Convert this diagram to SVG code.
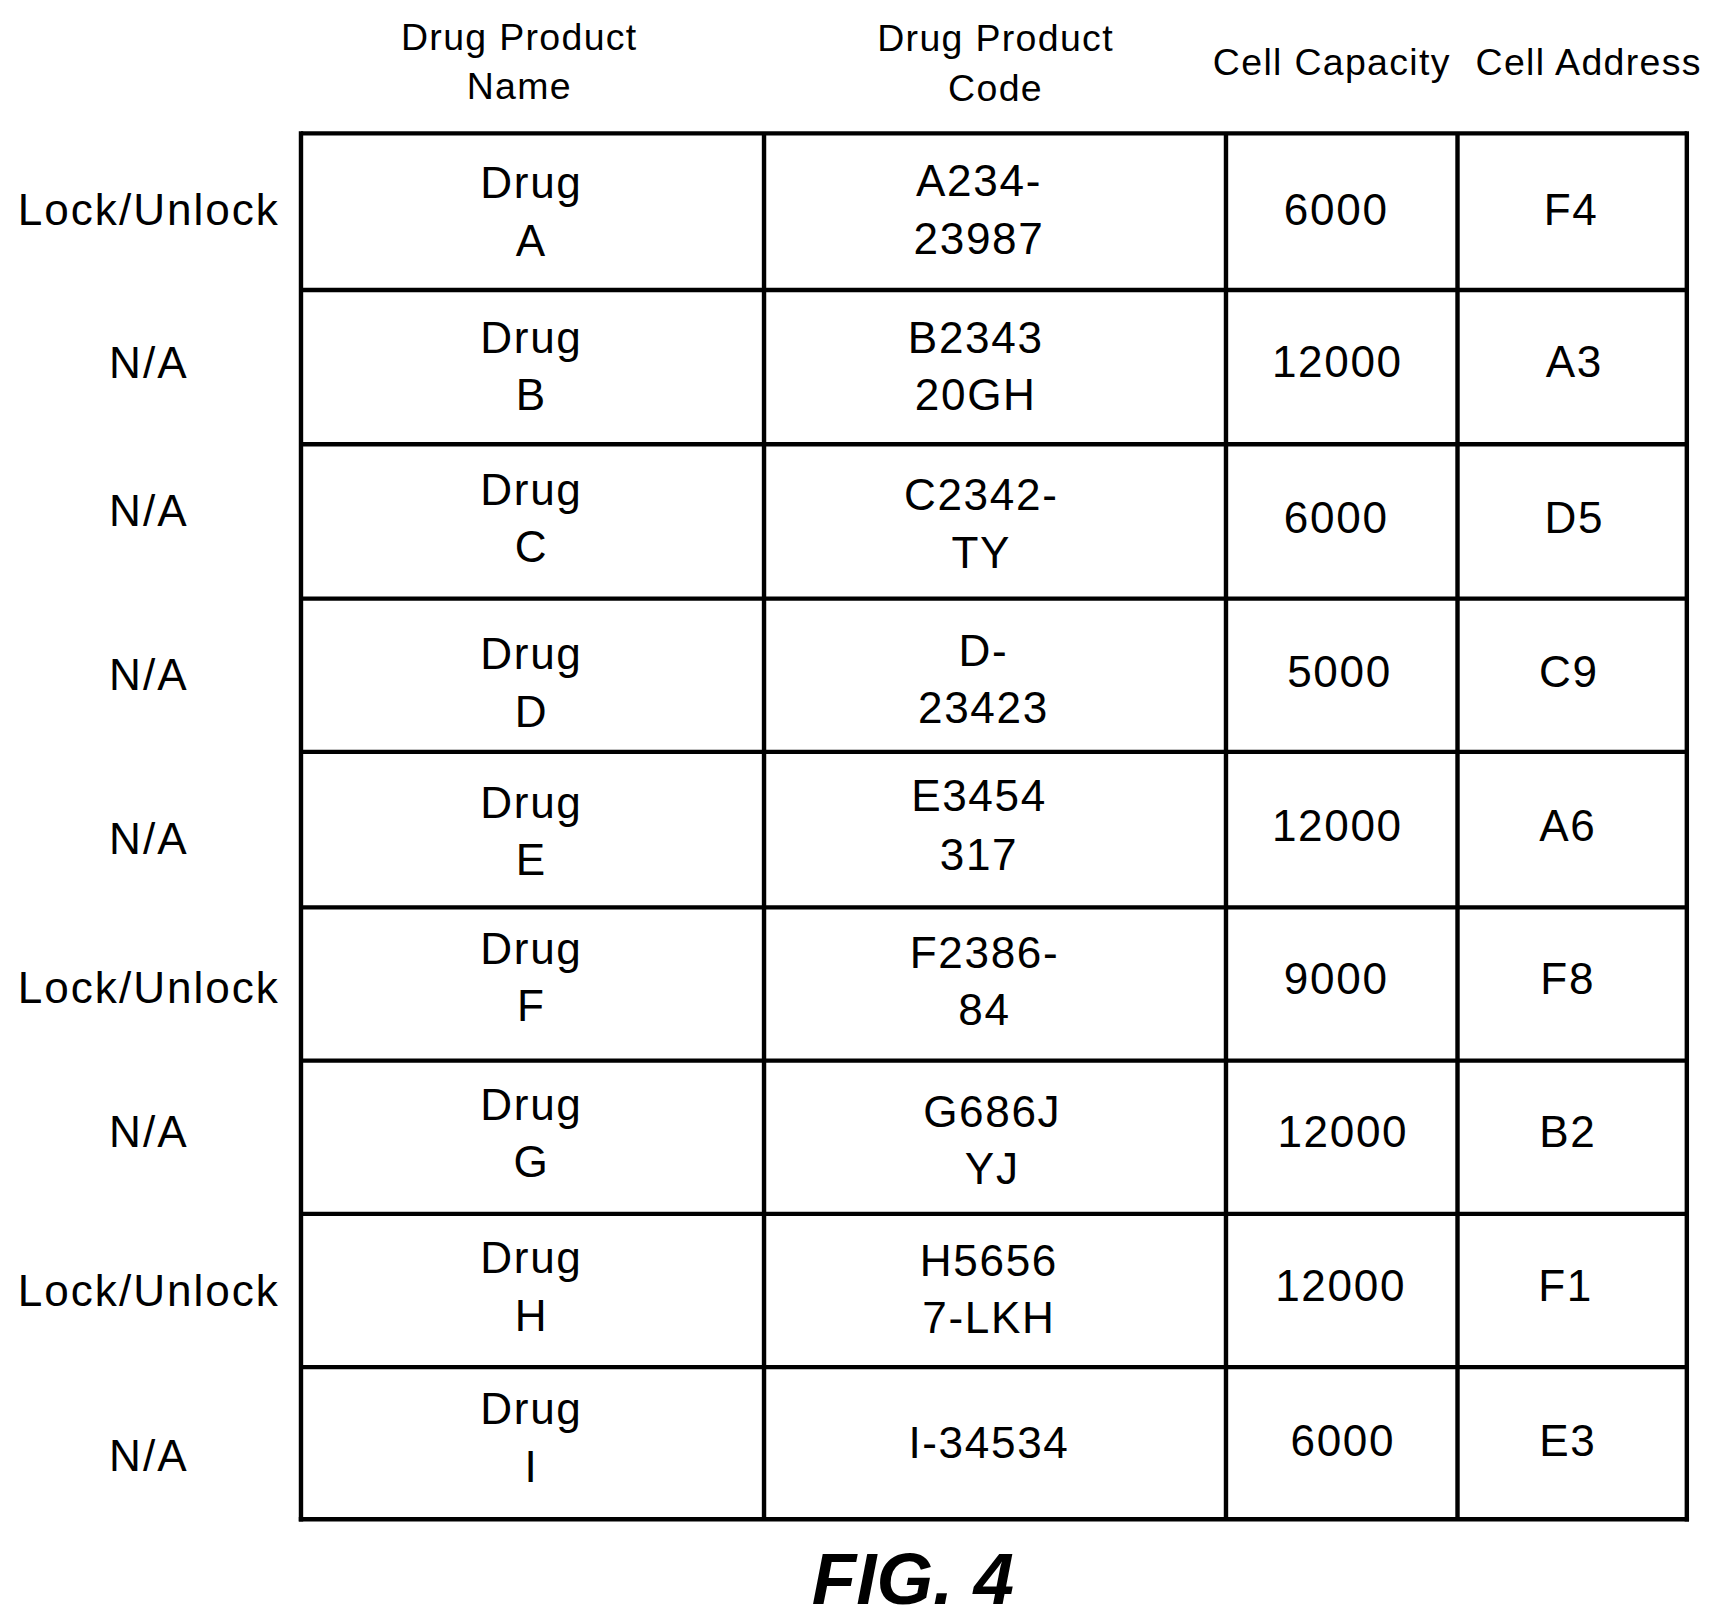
<svg xmlns="http://www.w3.org/2000/svg" width="1727" height="1623" viewBox="0 0 1727 1623">
<style>
text{font-family:"Liberation Sans",Arial,sans-serif;fill:#000;text-anchor:middle}
.c{font-size:40px;letter-spacing:1.5px}.h{font-size:34px;letter-spacing:1.2px}.l{font-size:40px;letter-spacing:1.8px}
.f{font-size:66px;font-weight:bold;font-style:italic}
line{stroke:#000;stroke-width:4}
</style>
<rect width="1727" height="1623" fill="#fff"/>
<g transform="scale(1.1025)">
<g id="grid">
<line x1="273" y1="121" x2="1530" y2="121"/><line x1="273" y1="263" x2="1530" y2="263"/><line x1="273" y1="403" x2="1530" y2="403"/><line x1="273" y1="543" x2="1530" y2="543"/><line x1="273" y1="682" x2="1530" y2="682"/><line x1="273" y1="823" x2="1530" y2="823"/><line x1="273" y1="962" x2="1530" y2="962"/><line x1="273" y1="1101" x2="1530" y2="1101"/><line x1="273" y1="1240" x2="1530" y2="1240"/><line x1="271" y1="1378" x2="1532" y2="1378"/>
<line x1="273" y1="119" x2="273" y2="1380"/><line x1="693" y1="121" x2="693" y2="1378"/><line x1="1112" y1="121" x2="1112" y2="1378"/><line x1="1322" y1="121" x2="1322" y2="1378"/><line x1="1530" y1="119" x2="1530" y2="1380"/>
</g>
<g id="headers">
<text class="h" x="471" y="45">Drug Product</text><text class="h" x="471" y="90">Name</text>
<text class="h" x="903" y="46">Drug Product</text><text class="h" x="903" y="92">Code</text>
<text class="h" x="1208" y="68">Cell Capacity</text><text class="h" x="1441" y="68">Cell Address</text>
</g>
<g id="row-a"><text class="l" x="135" y="204">Lock/Unlock</text><text class="c" x="482" y="180">Drug</text><text class="c" x="482" y="232">A</text><text class="c" x="888" y="178">A234-</text><text class="c" x="888" y="230">23987</text><text class="c" x="1212" y="204">6000</text><text class="c" x="1425" y="204">F4</text></g>
<g id="row-b"><text class="l" x="135" y="343">N/A</text><text class="c" x="482" y="320">Drug</text><text class="c" x="482" y="372">B</text><text class="c" x="885" y="320">B2343</text><text class="c" x="885" y="372">20GH</text><text class="c" x="1213" y="342">12000</text><text class="c" x="1428" y="342">A3</text></g>
<g id="row-c"><text class="l" x="135" y="477">N/A</text><text class="c" x="482" y="458">Drug</text><text class="c" x="482" y="510">C</text><text class="c" x="890" y="463">C2342-</text><text class="c" x="890" y="515">TY</text><text class="c" x="1212" y="483">6000</text><text class="c" x="1428" y="483">D5</text></g>
<g id="row-d"><text class="l" x="135" y="626">N/A</text><text class="c" x="482" y="607">Drug</text><text class="c" x="482" y="659">D</text><text class="c" x="892" y="604">D-</text><text class="c" x="892" y="656">23423</text><text class="c" x="1215" y="623">5000</text><text class="c" x="1423" y="623">C9</text></g>
<g id="row-e"><text class="l" x="135" y="775">N/A</text><text class="c" x="482" y="742">Drug</text><text class="c" x="482" y="794">E</text><text class="c" x="888" y="736">E3454</text><text class="c" x="888" y="789">317</text><text class="c" x="1213" y="763">12000</text><text class="c" x="1422" y="763">A6</text></g>
<g id="row-f"><text class="l" x="135" y="910">Lock/Unlock</text><text class="c" x="482" y="874">Drug</text><text class="c" x="482" y="926">F</text><text class="c" x="893" y="878">F2386-</text><text class="c" x="893" y="930">84</text><text class="c" x="1212" y="902">9000</text><text class="c" x="1422" y="902">F8</text></g>
<g id="row-g"><text class="l" x="135" y="1040">N/A</text><text class="c" x="482" y="1016">Drug</text><text class="c" x="482" y="1068">G</text><text class="c" x="900" y="1022">G686J</text><text class="c" x="900" y="1074">YJ</text><text class="c" x="1218" y="1040">12000</text><text class="c" x="1422" y="1040">B2</text></g>
<g id="row-h"><text class="l" x="135" y="1185">Lock/Unlock</text><text class="c" x="482" y="1155">Drug</text><text class="c" x="482" y="1207">H</text><text class="c" x="897" y="1157">H5656</text><text class="c" x="897" y="1209">7-LKH</text><text class="c" x="1216" y="1180">12000</text><text class="c" x="1420" y="1180">F1</text></g>
<g id="row-i"><text class="l" x="135" y="1334">N/A</text><text class="c" x="482" y="1292">Drug</text><text class="c" x="482" y="1344">I</text><text class="c" x="897" y="1322">I-34534</text><text class="c" x="1218" y="1321">6000</text><text class="c" x="1422" y="1321">E3</text></g>
<text class="f" x="828" y="1455">FIG. 4</text>
</g>
</svg>
